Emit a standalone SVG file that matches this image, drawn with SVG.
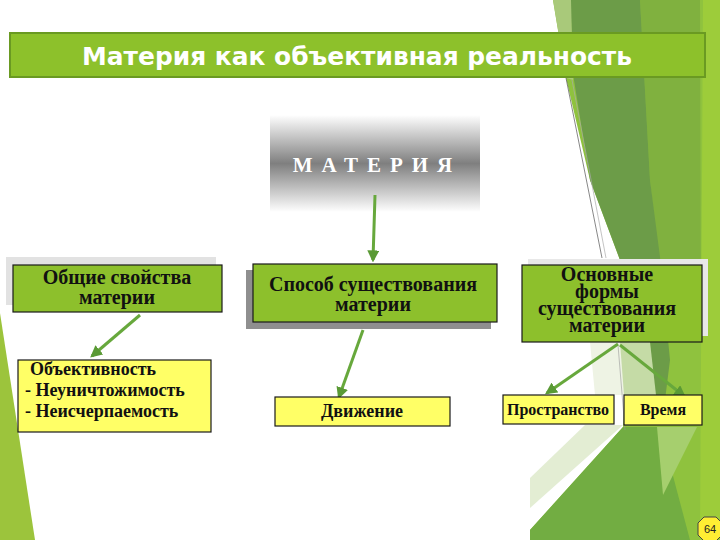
<svg xmlns="http://www.w3.org/2000/svg" width="720" height="540" viewBox="0 0 720 540">
<defs>
<style>
.gbox{fill:#8dc02c;stroke:#1a1a1a;stroke-width:1.2}
.ybox{fill:#ffff66;stroke:#1a1a1a;stroke-width:1.2}
.t{font-family:"Liberation Serif","Times New Roman",serif;font-weight:bold;fill:#111;font-size:20px}
.s18{font-size:18px}
.s16{font-size:16px}
.c{text-anchor:middle}
.ar{stroke:#67a83c;stroke-width:3;fill:none;marker-end:url(#ah)}
</style>
<marker id="ah" viewBox="0 0 10 10" refX="8" refY="5" markerWidth="4" markerHeight="4" orient="auto" markerUnits="strokeWidth">
<path d="M0,0 L10,5 L0,10 z" fill="#5a9a35"/>
</marker>
<linearGradient id="mg" x1="0" y1="0" x2="0" y2="1">
<stop offset="0" stop-color="#ffffff"/>
<stop offset="0.5" stop-color="#7f7f7f"/>
<stop offset="1" stop-color="#ffffff"/>
</linearGradient>
</defs>
<rect width="720" height="540" fill="#ffffff"/>
<g id="background">
<polygon points="553,0 720,0 720,540 530,540 530,530 623,427 625,395 620,342 620,260 590,180 566,78" fill="#8fc23e"/>
<polygon points="640,0 700,0 701,320 666,320 650,180" fill="#80b13f"/>
<polygon points="570,0 640,0 650,180 660,257 670,360 665,400 652,400 650,342 620,342 620,260 590,180 574,80" fill="#6c9c48"/>
<polygon points="553,0 571,0 573,80 566,78" fill="#a9c97a"/>
<polygon points="590,342 622,342 625,395 595,395" fill="#eef3e4"/>
<polygon points="620,342 650,342 656,395 624,395" fill="#c5dba6"/>
<polygon points="530,540 530,530 623,427 660,427 690,540" fill="#72ad42"/>
<polygon points="657,427 697,427 663,495" fill="#a6cf6e"/>
<polygon points="585,425 623,425 530,508 530,478" fill="#e3edd3"/>
<polygon points="703,0 720,0 720,540 700,540" fill="#9dcc3a"/>
<polygon points="0,313 35,540 0,540" fill="#9cc43c"/>
<line x1="566" y1="78" x2="602" y2="258" stroke="#555" stroke-width="0.7"/>
<line x1="572" y1="80" x2="606" y2="258" stroke="#aaa" stroke-width="0.7"/>
<line x1="618" y1="345" x2="625" y2="430" stroke="#999" stroke-width="0.6"/>
</g>
<g id="title">
<rect x="10" y="33" width="695" height="44" fill="#8dc12b" stroke="#6a9a22" stroke-width="2"/>
<text x="357" y="65" text-anchor="middle" font-family="DejaVu Sans, sans-serif" font-weight="bold" font-size="25" textLength="550" lengthAdjust="spacingAndGlyphs" fill="#ffffff">Материя как объективная реальность</text>
</g>
<g id="materia">
<rect x="270" y="115" width="210" height="97" fill="url(#mg)"/>
<text x="377" y="172" text-anchor="middle" font-family="Liberation Serif, serif" font-weight="bold" font-size="21" letter-spacing="9" fill="#ffffff">МАТЕРИЯ</text>
</g>
<g id="connectors">
<line class="ar" x1="375" y1="195" x2="373" y2="260"/>
<line class="ar" x1="140" y1="315" x2="92" y2="356"/>
<line class="ar" x1="363" y1="330" x2="339" y2="397"/>
<line class="ar" x1="618" y1="344" x2="547" y2="393"/>
<line class="ar" x1="620" y1="345" x2="684" y2="396" stroke-width="3.5"/>
</g>
<g id="general">
<rect x="6" y="257" width="210" height="48" fill="#e2e2e2"/>
<rect class="gbox" x="13" y="265" width="209" height="47"/>
<text class="t c" x="117" y="284">Общие свойства</text>
<text class="t c" x="117" y="304">материи</text>
</g>
<g id="properties">
<rect class="ybox" x="18" y="360" width="193" height="72"/>
<text class="t s18" x="30" y="375">Объективность</text>
<text class="t s18" x="25" y="396">- Неуничтожимость</text>
<text class="t s18" x="25" y="417">- Неисчерпаемость</text>
</g>
<g id="mode">
<rect x="246" y="270" width="245" height="59" fill="#8f8f8f"/>
<rect class="gbox" x="253" y="264" width="244" height="58"/>
<text class="t c" x="373" y="291">Способ существования</text>
<text class="t c" x="373" y="311">материи</text>
</g>
<g id="motion">
<rect class="ybox" x="275" y="397" width="175" height="29"/>
<text class="t c s18" x="362" y="417">Движение</text>
</g>
<g id="forms">
<rect x="528" y="259" width="180" height="77" fill="#e8e8e8"/>
<rect class="gbox" x="522" y="265" width="180" height="77"/>
<text class="t c" x="607" y="281">Основные</text>
<text class="t c" x="607" y="298">формы</text>
<text class="t c" x="607" y="315">существования</text>
<text class="t c" x="607" y="332">материи</text>
</g>
<g id="space">
<rect class="ybox" x="503" y="395" width="111" height="29"/>
<text class="t c s16" x="558" y="415">Пространство</text>
</g>
<g id="time">
<rect class="ybox" x="624" y="395" width="78" height="30"/>
<text class="t c s16" x="663" y="415">Время</text>
</g>
<g id="page">
<polygon points="704,517 716,517 722,523 722,535 716,541 704,541 698,535 698,523" fill="#ffee33" stroke="#444" stroke-width="1"/>
<text x="710" y="533" text-anchor="middle" font-family="Liberation Sans, sans-serif" font-size="11" fill="#222">64</text>
</g>
</svg>
